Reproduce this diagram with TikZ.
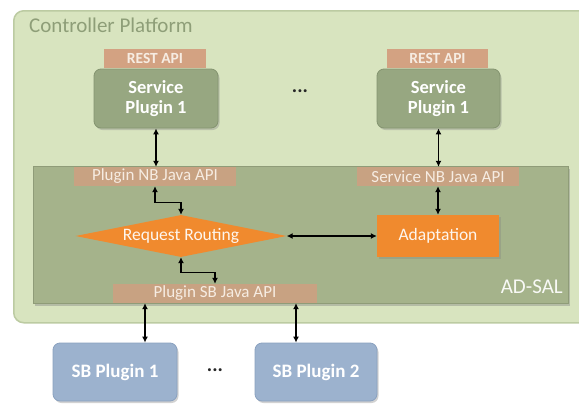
\documentclass[tikz,border=0pt]{standalone}
\usepackage{fontspec}
\setmainfont{Carlito}
\usetikzlibrary{arrows.meta,shapes.geometric,shadows}

\definecolor{platformfill}{HTML}{D8E4BF}
\definecolor{platformline}{HTML}{BCCBA2}
\definecolor{platformtext}{HTML}{8E9E78}
\definecolor{salfill}{HTML}{A5B38B}
\definecolor{salline}{HTML}{8F9C78}
\definecolor{apifill}{HTML}{D3A282}
\definecolor{apitext}{HTML}{F6ECE2}
\definecolor{javafill}{HTML}{C8A282}
\definecolor{pluginfill}{HTML}{97A781}
\definecolor{pluginline}{HTML}{849470}
\definecolor{orangefill}{HTML}{F08A2E}
\definecolor{sbfill}{HTML}{9CB2CE}
\definecolor{sbline}{HTML}{8AA1BF}

\tikzset{
  apibox/.style={draw=none, fill=apifill, text=apitext, font=\bfseries\fontsize{15.5}{16}\selectfont,
    inner sep=0pt, minimum height=19},
  javabox/.style={draw=none, fill=javafill, text=apitext, font=\fontsize{17}{18}\selectfont,
    inner sep=0pt, minimum height=19},
  servicebox/.style={draw=pluginline, line width=0.8pt, fill=pluginfill, rounded corners=7,
    text=white, font=\bfseries\fontsize{18.5}{19.5}\selectfont, align=center, inner sep=0pt,
    minimum width=124, minimum height=59,
    drop shadow={opacity=0.35, shadow xshift=1.5pt, shadow yshift=-2pt}},
  sbbox/.style={draw=sbline, line width=0.8pt, fill=sbfill, rounded corners=7,
    text=white, font=\bfseries\fontsize{19}{20}\selectfont, align=center, inner sep=0pt,
    minimum width=123, minimum height=58,
    drop shadow={opacity=0.35, shadow xshift=1.5pt, shadow yshift=-2pt}},
  orangebox/.style={draw=none, fill=orangefill, text=white!92!orangefill, font=\fontsize{17.5}{18}\selectfont,
    inner sep=0pt},
  dotslabel/.style={font=\bfseries\fontsize{20}{20}\selectfont, text=black!85, inner sep=0pt},
  arr/.style={{Latex[length=6pt,width=6pt]}-{Latex[length=6pt,width=6pt]}, line width=1.3pt, black},
}

\begin{document}
\begin{tikzpicture}[x=1pt,y=-1pt]
  \clip (0,0) rectangle (579,405);
  \fill[white] (0,0) rectangle (579,405);

  % controller platform
  \node[draw=platformline, line width=1.5pt, fill=platformfill, rounded corners=10,
        minimum width=600, minimum height=312, inner sep=0pt, anchor=north west]
        (platform) at (13,10) {};
  \node[text=platformtext, font=\fontsize{21}{22}\selectfont, anchor=west, inner sep=0pt]
        (ptitle) at (29,25) {Controller Platform};

  % service plugins
  \node[apibox, minimum width=102] (rest1) at (155,58.5) {REST API};
  \node[apibox, minimum width=101] (rest2) at (437.5,58.5) {REST API};
  \node[servicebox] (sp1) at (156,98.5) {Service\\Plugin 1};
  \node[servicebox, minimum width=123] (sp2) at (438.5,98.5) {Service\\Plugin 1};
  \node[dotslabel] (topdots) at (300,91) {...};

  % AD-SAL
  \node[draw=salline, line width=0.8pt, fill=salfill, minimum width=535, minimum height=137,
        inner sep=0pt, drop shadow={opacity=0.4, shadow xshift=2pt, shadow yshift=-2.5pt}]
        (sal) at (300.5,234.5) {};
  \node[text=white!92!salfill, font=\fontsize{21}{22}\selectfont, anchor=east, inner sep=0pt]
        (sallabel) at (563,287) {AD-SAL};

  \node[javabox, minimum width=162] (nb1) at (155,176.5) {Plugin NB Java API};
  \node[javabox, minimum width=162] (nb2) at (438,176.5) {Service NB Java API};
  \node[javabox, minimum width=204] (sb) at (215,293.5) {Plugin SB Java API};

  \node[orangebox, diamond, shape aspect=5, minimum width=211, minimum height=42] (rr) at (181,236) {Request Routing};
  \node[orangebox, minimum width=122, minimum height=42,
        drop shadow={opacity=0.3, shadow xshift=1.5pt, shadow yshift=-1.5pt}] (adapt) at (438,236) {Adaptation};

  % south-bound plugins
  \node[sbbox, minimum width=124] (sbp1) at (115,372) {SB Plugin 1};
  \node[sbbox, minimum width=122] (sbp2) at (316,372) {SB Plugin 2};
  \node[dotslabel] (botdots) at (215,370) {...};

  % connectors
  \draw[arr] (sp1.south) -- (sp1.south |- nb1.north);
  \draw[arr] (sp2.south) -- (sp2.south |- nb2.north);
  \draw[arr] (nb1.south) -- ++(0,16) -| (rr.north);
  \draw[arr] (rr.south) -- ++(0,15) -| (sb.north);
  \draw[arr] (rr.east) -- (adapt.west);
  \draw[arr] (nb2.south) -- (adapt.north);
  \coordinate (sbl) at ([xshift=-70pt]sb.south);
  \coordinate (sbr) at ([xshift=81pt]sb.south);
  \draw[arr] (sbl) -- (sbl |- sbp1.north);
  \draw[arr] (sbr) -- (sbr |- sbp2.north);
\end{tikzpicture}
\end{document}
